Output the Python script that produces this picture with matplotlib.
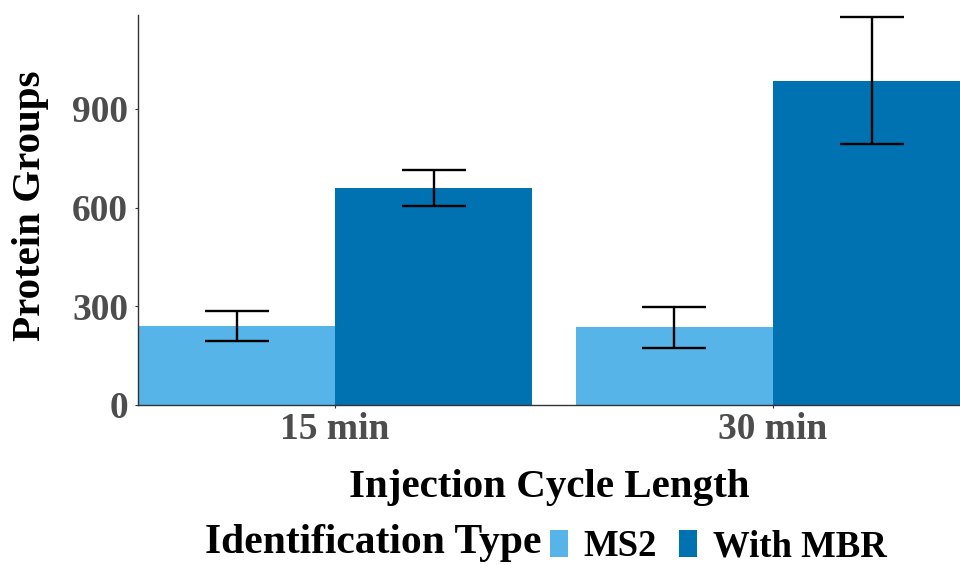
import matplotlib.pyplot as plt
from matplotlib.patches import Patch
import numpy as np

# group labels and series
cycles = ["15 min", "30 min"]
types = ["MS2", "With MBR"]
ms2 = [240, 236]
ms2_err = [47, 62]
mbr = [660, 985]
mbr_err = [55, 193]
colors = ["#56B4E9", "#0072B2"]

plt.rcParams['font.family'] = ['Liberation Serif', 'DejaVu Serif']
plt.rcParams['font.weight'] = 'bold'

W, H = 960, 565
fig = plt.figure(figsize=(W / 100, H / 100), dpi=100)
ax = fig.add_axes([138 / W, (H - 405) / H, 1 - 138 / W, (405 - 15) / H])

x = np.arange(1, len(cycles) + 1)
w = 0.45
for vals, errs, off, c in [(ms2, ms2_err, -w / 2, colors[0]), (mbr, mbr_err, w / 2, colors[1])]:
    ax.bar(x + off, vals, width=w, color=c, linewidth=0)
    ax.errorbar(x + off, vals, yerr=errs, fmt="none", ecolor="black",
                elinewidth=1.7, capsize=23, capthick=1.7)

ax.set_xlim(0.55, 2 + (960 - 773) / 438)
ax.set_ylim(0, 1185)
ax.set_yticks([0, 300, 600, 900])
ax.set_xticks(x)
ax.set_xticklabels(cycles)

for s in ["top", "right"]:
    ax.spines[s].set_visible(False)
for s in ["left", "bottom"]:
    ax.spines[s].set_color("#333333")
    ax.spines[s].set_linewidth(1.0)

ax.tick_params(axis="both", length=2.2, width=0.8, color="#333333",
               labelcolor="#4D4D4D", labelsize=27)
ax.tick_params(axis="y", pad=5)
ax.tick_params(axis="x", pad=3)
ax.set_ylabel("Protein Groups", fontsize=29.5, fontweight="bold")
ax.set_xlabel("Injection Cycle Length", fontsize=29.5, fontweight="bold")
ax.yaxis.set_label_coords(-0.108, 0.51)
ax.xaxis.set_label_coords(0.5, -0.163)

# legend along the bottom
fig.text(205 / W, 1 - 553 / H, "Identification Type", fontsize=30,
         fontweight="bold", va="baseline", ha="left")
handles = [Patch(facecolor=c, edgecolor="none") for c in colors]
leg = fig.legend(handles, types, loc="center left", ncol=2,
                 bbox_to_anchor=(550 / W, 1 - 547 / H), frameon=False,
                 prop={"size": 26.5, "weight": "bold"}, handlelength=0.49,
                 handleheight=0.76, handletextpad=0.42, columnspacing=0.6,
                 borderpad=0, borderaxespad=0)

fig.savefig("out.png", dpi=100)
